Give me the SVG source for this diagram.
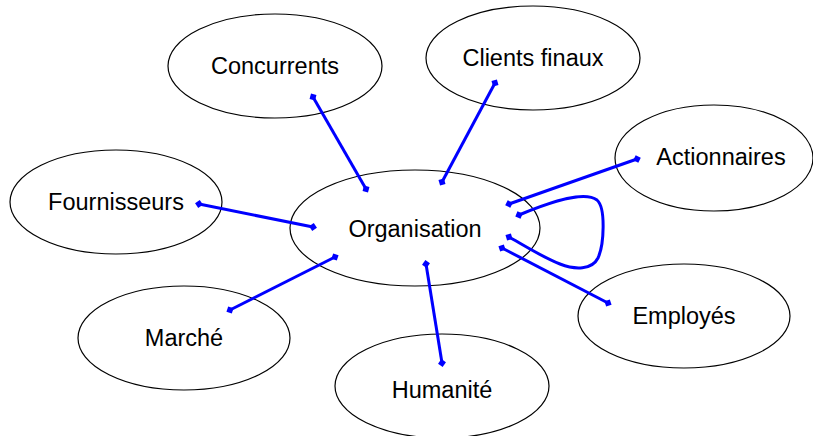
<svg xmlns="http://www.w3.org/2000/svg" width="813" height="436" viewBox="0 0 813 436">
<style>
.node ellipse{fill:#fff;stroke:#000;stroke-width:1.2}
.node text{font-family:"Liberation Sans",Arial,sans-serif;font-size:23.5px;fill:#000;text-anchor:middle}
.conn{fill:none;stroke:#0000ff;stroke-width:3;marker-start:url(#d);marker-end:url(#d)}
</style>
<defs>
<marker id="d" viewBox="-4.5 -4.5 9 9" markerWidth="9" markerHeight="9" refX="0" refY="0" orient="auto" markerUnits="userSpaceOnUse">
<path d="M-4,0 L0,-4 L4,0 L0,4 Z" fill="#0000ff"/>
</marker>
</defs>
<rect width="813" height="436" fill="#fff"/>
<g id="concurrents" class="node"><ellipse cx="275" cy="66" rx="107" ry="52"/><text x="275" y="74">Concurrents</text></g>
<g id="clients" class="node"><ellipse cx="533" cy="58" rx="107" ry="52"/><text x="533" y="66">Clients finaux</text></g>
<g id="actionnaires" class="node"><ellipse cx="714" cy="158" rx="99" ry="53"/><text x="721" y="165">Actionnaires</text></g>
<g id="fournisseurs" class="node"><ellipse cx="116" cy="202" rx="106" ry="52"/><text x="116" y="210">Fournisseurs</text></g>
<g id="organisation" class="node"><ellipse cx="415" cy="228" rx="125" ry="58"/><text x="415" y="237">Organisation</text></g>
<g id="marche" class="node"><ellipse cx="184" cy="338" rx="106" ry="52"/><text x="184" y="346">Marché</text></g>
<g id="humanite" class="node"><ellipse cx="442" cy="386" rx="107" ry="52"/><text x="442" y="398">Humanité</text></g>
<g id="employes" class="node"><ellipse cx="684" cy="316" rx="106" ry="52"/><text x="684" y="324">Employés</text></g>
<g id="connectors">
<path class="conn" d="M313,97 L366,189"/>
<path class="conn" d="M495,83 L442,182"/>
<path class="conn" d="M637,159 L509,204"/>
<path class="conn" d="M519,215 C555,200 585,191 597,200 C606,208 604,245 598,258 C592,270 575,270 560,264 C540,256 520,243 509,237"/>
<path class="conn" d="M502,248 L608,303"/>
<path class="conn" d="M199,204 L313,227"/>
<path class="conn" d="M335,257 L230,310"/>
<path class="conn" d="M426,264 L442,363"/>
</g>
</svg>
